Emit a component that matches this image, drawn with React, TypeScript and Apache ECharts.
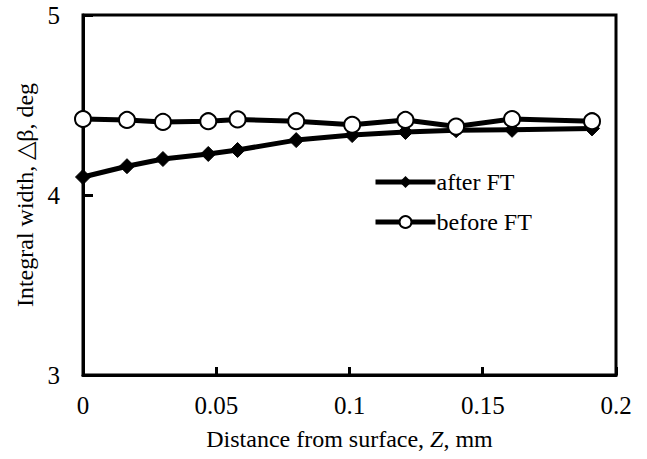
import React, { useEffect, useRef } from "react";
import * as echarts from "echarts";

const afterX = [0, 0.0165, 0.03, 0.047, 0.058, 0.08, 0.101, 0.121, 0.14, 0.161, 0.191];
const afterY = [4.1, 4.16, 4.2, 4.228, 4.25, 4.305, 4.333, 4.35, 4.36, 4.362, 4.37];
const beforeX = [0, 0.0165, 0.03, 0.047, 0.058, 0.08, 0.101, 0.121, 0.14, 0.161, 0.191];
const beforeY = [4.422, 4.417, 4.406, 4.41, 4.42, 4.41, 4.39, 4.417, 4.38, 4.422, 4.41];

const FONT = "'Liberation Serif', 'Times New Roman', serif";

export default function App() {
  const ref = useRef<HTMLDivElement>(null);
  useEffect(() => {
    if (!ref.current) return;
    const chart = echarts.init(ref.current, null, { renderer: "svg" });
    chart.setOption({
      animation: false,
      backgroundColor: "#fff",
      grid: {
        left: 83,
        right: 31,
        top: 15,
        bottom: 84,
        show: true,
        borderColor: "#000",
        borderWidth: 3,
      },
      legend: {
        orient: "vertical",
        left: 368,
        top: 165,
        itemWidth: 60,
        itemHeight: 15,
        itemGap: 16,
        lineStyle: { width: 5 },
        textStyle: { fontFamily: FONT, fontSize: 24, color: "#000", padding: [0, 0, 0, -4] },
        data: ["after FT", "before FT"],
      },
      xAxis: {
        type: "value",
        min: 0,
        max: 0.2,
        interval: 0.05,
        name: "{n|Distance from surface, }{i|Z}{n|, mm}",
        nameLocation: "middle",
        nameGap: 52,
        nameTextStyle: {
          rich: {
            n: { fontFamily: FONT, fontSize: 24, color: "#000" },
            i: { fontFamily: FONT, fontSize: 24, color: "#000", fontStyle: "italic" },
          },
        },
        axisLine: { show: true, lineStyle: { color: "#000", width: 3 } },
        axisTick: { show: true, inside: true, length: 8, lineStyle: { color: "#000", width: 3 } },
        splitLine: { show: false },
        axisLabel: {
          fontFamily: FONT,
          fontSize: 25,
          color: "#000",
          margin: 18,
          formatter: (v: number) => String(parseFloat(v.toFixed(2))),
        },
      },
      yAxis: {
        type: "value",
        min: 3,
        max: 5,
        interval: 1,
        name: "Integral width, △β, deg",
        nameLocation: "middle",
        nameGap: 46,
        nameTextStyle: { fontFamily: FONT, fontSize: 24, color: "#000" },
        axisLine: { show: true, lineStyle: { color: "#000", width: 3 } },
        axisTick: { show: true, inside: true, length: 10, lineStyle: { color: "#000", width: 3 } },
        splitLine: { show: false },
        axisLabel: { fontFamily: FONT, fontSize: 25, color: "#000", margin: 23 },
      },
      series: [
        {
          name: "after FT",
          type: "line",
          data: afterX.map((x, i) => [x, afterY[i]]),
          symbol: "diamond",
          symbolSize: 15,
          lineStyle: { color: "#000", width: 5 },
          itemStyle: { color: "#000", borderColor: "#000" },
          z: 2,
        },
        {
          name: "before FT",
          type: "line",
          data: beforeX.map((x, i) => [x, beforeY[i]]),
          symbol: "circle",
          symbolSize: 16,
          lineStyle: { color: "#000", width: 5 },
          itemStyle: { color: "#fff", borderColor: "#000", borderWidth: 2 },
          z: 3,
        },
      ],
    });
    return () => chart.dispose();
  }, []);
  return <div ref={ref} style={{ width: 647, height: 459, position: "absolute", left: 0, top: 0 }} />;
}
